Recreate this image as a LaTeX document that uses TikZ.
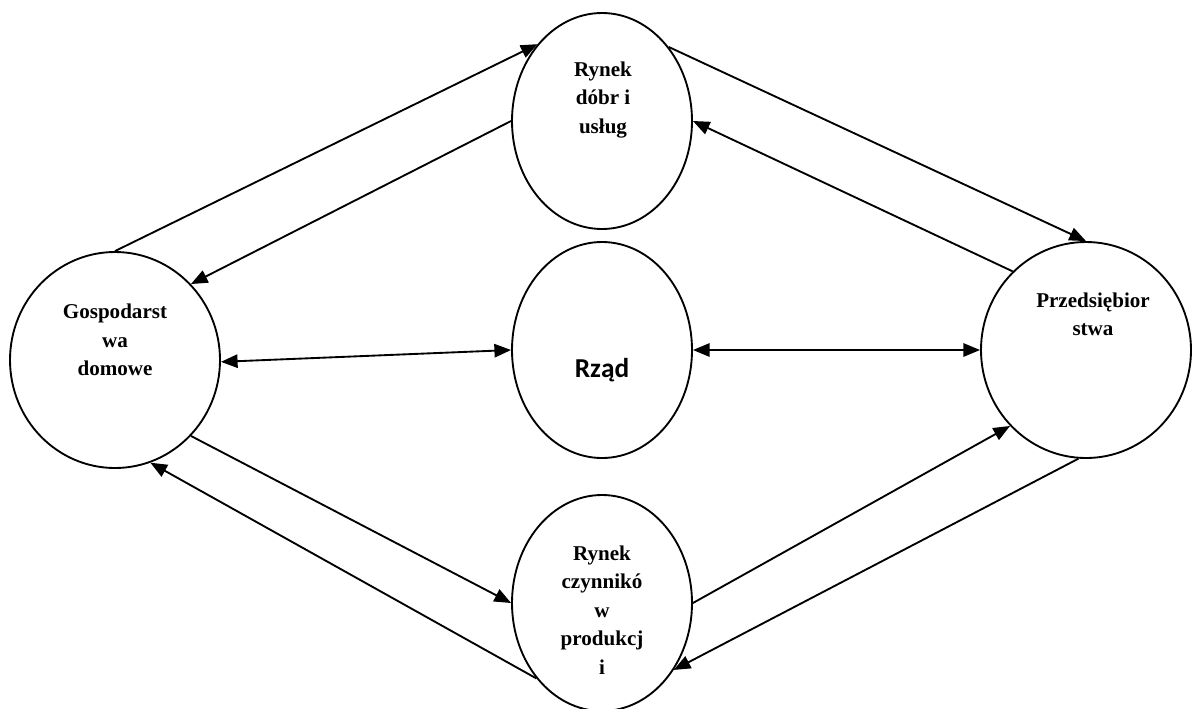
\documentclass[tikz,border=0pt]{standalone}
\usepackage{fontspec}
\setmainfont{Liberation Serif}
\newfontfamily\calfont{Carlito}
\usetikzlibrary{shapes.geometric,arrows.meta}
\begin{document}
\begin{tikzpicture}[x=0.75pt,y=-0.75pt,
  market/.style={draw,line width=1.4pt,ellipse,inner sep=0pt,
    minimum width=180*0.75pt,minimum height=216*0.75pt},
  agent/.style={draw,line width=1.4pt,ellipse,inner sep=0pt,
    minimum width=210*0.75pt,minimum height=216*0.75pt},
  lbl/.style={align=center,inner sep=0pt,font=\bfseries\fontsize{15.8}{21.3}\selectfont},
  flow/.style={line width=1.4pt,-{Triangle[length=12.5pt,width=10pt]}},
  both/.style={line width=1.4pt,{Triangle[length=12.5pt,width=10pt]}-{Triangle[length=12.5pt,width=10pt]}}]
\useasboundingbox (0,0) rectangle (1195,708);

% circles
\node[market] (T) at (602,121) {};
\node[market] (M) at (602,350) {};
\node[market] (B) at (602,603) {};
\node[agent]  (L) at (115,360) {};
\node[agent]  (R) at (1086,350) {};

% labels
\node[lbl] (Ttext) at (603,100) {Rynek\\dóbr i\\usług};
\node[lbl] (Ltext) at (115,340) {Gospodarst\\wa\\domowe};
\node[lbl] (Rtext) at (1093,314) {Przedsiębior\\stwa};
\node[lbl] (Btext) at (602,610) {Rynek\\czynnikó\\w\\produkcj\\i};
\node[inner sep=0pt,font=\calfont\bfseries\fontsize{20.5}{24}\selectfont] (Mtext) at (602,370) {Rząd};

% flows
\draw[flow] (L.90) -- (T.130.5);
\draw[flow] (T.180) -- (L.45);
\draw[flow] (T.48) -- (R.90);
\draw[flow] (R.133.5) -- (T.0);
\draw[both] (L.-1) -- (M.180);
\draw[both] (M.0) -- (R.180);
\draw[flow] (L.-45) -- (B.180);
\draw[flow] (B.229) -- (L.-71);
\draw[flow] (B.0) -- (R.225.8);
\draw[flow] (R.266) -- (B.317);
\end{tikzpicture}
\end{document}
